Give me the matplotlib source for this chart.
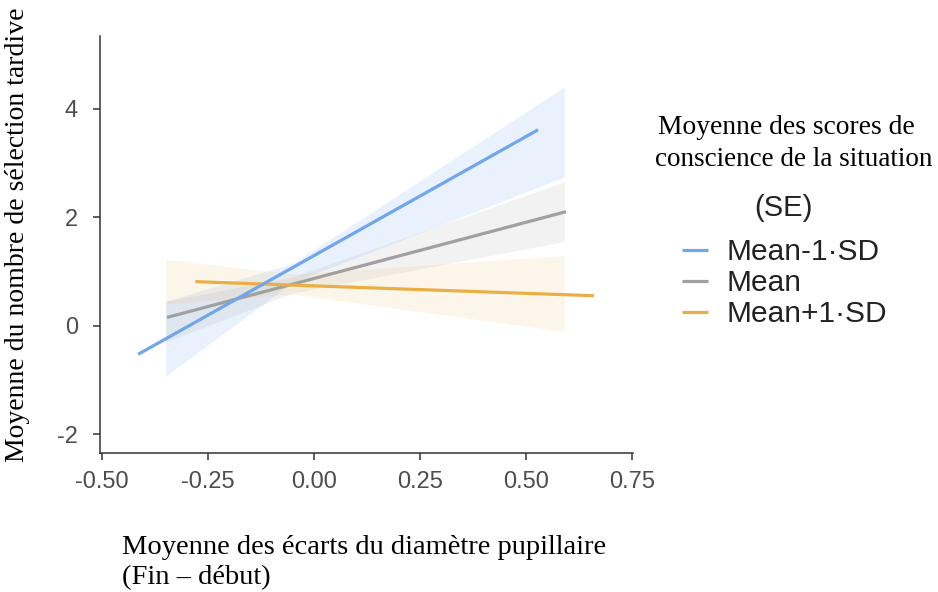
import numpy as np
import matplotlib.pyplot as plt

plt.rcParams['axes.unicode_minus'] = False

# fitted lines (endpoints)
groups = ['Mean-1·SD', 'Mean', 'Mean+1·SD']
line_x = {'Mean-1·SD': [-0.415, 0.528], 'Mean': [-0.347, 0.594], 'Mean+1·SD': [-0.28, 0.66]}
line_y = {'Mean-1·SD': [-0.53, 3.61], 'Mean': [0.15, 2.10], 'Mean+1·SD': [0.81, 0.55]}

# SE bands
band_x = [-0.35, -0.05, 0.59]
band_lo = {'Mean-1·SD': [-0.93, 0.80, 2.74], 'Mean': [-0.30, 0.60, 1.55], 'Mean+1·SD': [0.40, 0.58, -0.11]}
band_hi = {'Mean-1·SD': [0.45, 1.15, 4.40], 'Mean': [0.45, 0.90, 2.65], 'Mean+1·SD': [1.22, 0.95, 1.29]}

colors = {'Mean-1·SD': '#6FA6EC', 'Mean': '#A0A0A0', 'Mean+1·SD': '#E9AF45'}
band_alpha = {'Mean-1·SD': 0.15, 'Mean': 0.13, 'Mean+1·SD': 0.11}
zord = {'Mean-1·SD': 5, 'Mean': 3, 'Mean+1·SD': 4}

xticks = [-0.50, -0.25, 0.00, 0.25, 0.50, 0.75]
yticks = [-2, 0, 2, 4]

sans = 'Liberation Sans'
serif = 'Liberation Serif'

fig = plt.figure(figsize=(9.38, 5.92), dpi=100)
ax = fig.add_axes([100 / 938, 1 - 453 / 592, 533 / 938, 417 / 592])

for g in groups:
    ax.fill_between(band_x, band_lo[g], band_hi[g], color=colors[g],
                    alpha=band_alpha[g], linewidth=0, zorder=1)
for g in groups:
    ax.plot(line_x[g], line_y[g], color=colors[g], linewidth=2.3,
            solid_capstyle='butt', label=g, zorder=zord[g])

ax.set_xlim(-0.505, 0.752)
ax.set_ylim(-2.35, 5.34)
ax.set_xticks(xticks)
ax.set_xticklabels([f'{v:.2f}' for v in xticks])
ax.set_yticks(yticks)
for s in ['top', 'right']:
    ax.spines[s].set_visible(False)
for s in ['left', 'bottom']:
    ax.spines[s].set_color('#333333')
    ax.spines[s].set_linewidth(1.1)
ax.tick_params(axis='both', colors='#333333', labelcolor='#4D4D4D',
               length=5, width=1.1, labelsize=17)
ax.tick_params(axis='x', pad=8)
ax.tick_params(axis='y', pad=11)
for lab in ax.get_xticklabels() + ax.get_yticklabels():
    lab.set_fontfamily(sans)

# axis titles
fig.text(18 / 938, 1 - 235 / 592, 'Moyenne du nombre de sélection tardive',
         rotation=90, ha='center', va='center', fontsize=20, family=serif)
fig.text(122 / 938, 1 - 548 / 592, 'Moyenne des écarts du diamètre pupillaire',
         ha='left', va='center', fontsize=20.5, family=serif)
fig.text(122 / 938, 1 - 578 / 592, '(Fin – début)',
         ha='left', va='center', fontsize=20.5, family=serif)

# legend
fig.text(658 / 938, 1 - 128 / 592, 'Moyenne des scores de',
         ha='left', va='center', fontsize=19.8, family=serif)
fig.text(655 / 938, 1 - 160 / 592, 'conscience de la situation',
         ha='left', va='center', fontsize=19.5, family=serif)
fig.text(783 / 938, 1 - 208 / 592, '(SE)', ha='center', va='center',
         fontsize=21, family=sans, color='#222222')
leg = ax.legend(loc='upper left', bbox_to_anchor=(682 / 938, 1 - 238 / 592),
                bbox_transform=fig.transFigure, frameon=False, borderpad=0,
                borderaxespad=0, handlelength=0.87, handletextpad=0.62,
                labelspacing=0.1, prop={'family': sans, 'size': 21.5})
for t in leg.get_texts():
    t.set_color('#222222')
for h in leg.get_lines():
    h.set_linewidth(2.3)

fig.savefig('out.png', dpi=100)
